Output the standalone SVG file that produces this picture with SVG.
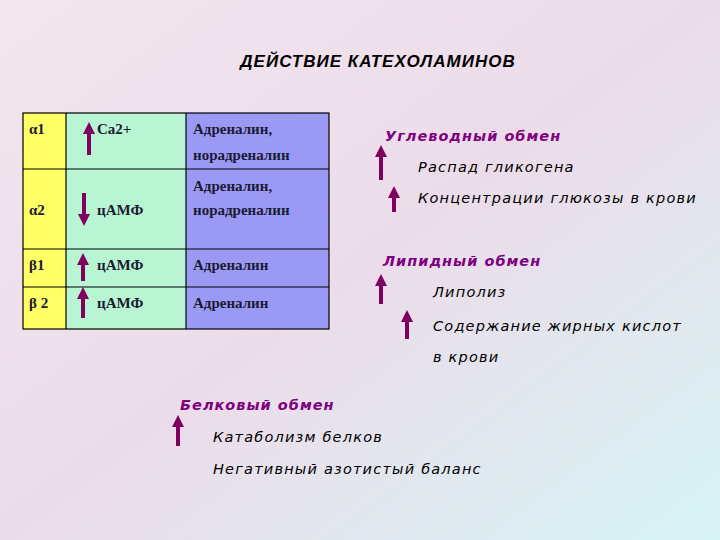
<svg xmlns="http://www.w3.org/2000/svg" width="720" height="540" viewBox="0 0 720 540">
<defs>
<linearGradient id="bg" x1="0" y1="0" x2="1" y2="1">
<stop offset="0" stop-color="#f3e6ee"/><stop offset="0.5" stop-color="#ecdcea"/><stop offset="1" stop-color="#d6f4f4"/>
</linearGradient>
<marker id="ah" viewBox="0 0 10 10" refX="5" refY="5" markerWidth="3" markerHeight="3" orient="auto"><path d="M0,0 L10,5 L0,10 z" fill="#800060"/></marker>
<style>
.tt{font-family:"Liberation Serif",serif;font-size:15px;font-weight:bold;fill:#1a1a33}
.it{font-family:"DejaVu Sans","Liberation Sans",sans-serif;font-style:italic;font-size:14.5px;letter-spacing:1.2px;fill:#000}
.hd{font-family:"DejaVu Sans","Liberation Sans",sans-serif;font-style:italic;font-weight:bold;font-size:14.5px;letter-spacing:1px;fill:#800080}
.ar{stroke:#800060;stroke-width:4;fill:none;marker-end:url(#ah)}
.ln{stroke:#000;stroke-width:1.2}
</style>
</defs>
<rect width="720" height="540" fill="url(#bg)"/>
<text x="378" y="67" text-anchor="middle" font-family="Liberation Sans,sans-serif" font-style="italic" font-weight="bold" font-size="17" letter-spacing="1" fill="#000">ДЕЙСТВИЕ КАТЕХОЛАМИНОВ</text>
<g id="table">
<rect x="23" y="113" width="43" height="216" fill="#ffff66"/>
<rect x="66" y="113" width="120" height="216" fill="#b8f5d2"/>
<rect x="186" y="113" width="143" height="216" fill="#9a9af5"/>
<g class="ln"><rect x="23" y="113" width="306" height="216" fill="none"/>
<line x1="66" y1="113" x2="66" y2="329"/><line x1="186" y1="113" x2="186" y2="329"/>
<line x1="23" y1="169" x2="329" y2="169"/><line x1="23" y1="249" x2="329" y2="249"/><line x1="23" y1="287" x2="329" y2="287"/></g>
<text class="tt" x="29" y="134">α1</text><text class="tt" x="29" y="215">α2</text><text class="tt" x="29" y="270">β1</text><text class="tt" x="29" y="308">β 2</text>
<text class="tt" x="97" y="134">Ca2+</text><text class="tt" x="97" y="215">цАМФ</text><text class="tt" x="97" y="270">цАМФ</text><text class="tt" x="97" y="308">цАМФ</text>
<text class="tt" x="193" y="134">Адреналин,</text><text class="tt" x="193" y="160">норадреналин</text>
<text class="tt" x="193" y="191">Адреналин,</text><text class="tt" x="193" y="215">норадреналин</text>
<text class="tt" x="193" y="270">Адреналин</text><text class="tt" x="193" y="308">Адреналин</text>
</g>
<g id="arrows">
<line class="ar" x1="89" y1="155" x2="89" y2="128"/>
<line class="ar" x1="84" y1="193" x2="84" y2="220"/>
<line class="ar" x1="83" y1="281" x2="83" y2="259"/>
<line class="ar" x1="83" y1="318" x2="83" y2="293"/>
<line class="ar" x1="381" y1="180" x2="381" y2="151"/>
<line class="ar" x1="394" y1="212" x2="394" y2="192"/>
<line class="ar" x1="381" y1="304" x2="381" y2="280"/>
<line class="ar" x1="407" y1="339" x2="407" y2="316"/>
<line class="ar" x1="178" y1="446" x2="178" y2="421"/>
</g>
<g id="carb"><text class="hd" x="385" y="141">Углеводный обмен</text>
<text class="it" x="418" y="172">Распад гликогена</text>
<text class="it" x="418" y="203">Концентрации глюкозы в крови</text></g>
<g id="lipid"><text class="hd" x="383" y="266">Липидный обмен</text>
<text class="it" x="433" y="297">Липолиз</text>
<text class="it" x="433" y="331">Содержание жирных кислот</text>
<text class="it" x="433" y="362">в крови</text></g>
<g id="protein"><text class="hd" x="180" y="410">Белковый обмен</text>
<text class="it" x="213" y="442">Катаболизм белков</text>
<text class="it" x="213" y="474">Негативный азотистый баланс</text></g>
</svg>
